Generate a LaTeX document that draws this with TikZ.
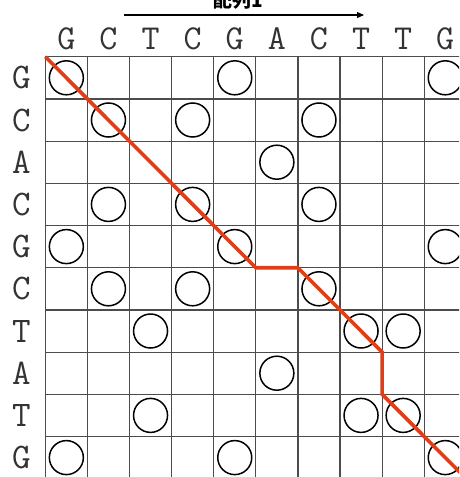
\documentclass[tikz,border=0pt]{standalone}
\usepackage{fontspec}
\newfontfamily\cjk{Noto Sans CJK JP}
\usetikzlibrary{arrows.meta}
\definecolor{pathred}{RGB}{222,62,24}
\tikzset{
  gridline/.style={draw=black!70, line width=1.2pt},
  seqlabel/.style={font=\ttfamily\fontsize{35}{35}\selectfont, text=black!80, inner sep=0pt, anchor=center},
  rowlabel/.style={font=\ttfamily\fontsize{36}{36}\selectfont, text=black!80, inner sep=0pt, anchor=center},
  match/.style={circle, draw=black, line width=1.5pt, minimum size=34pt, inner sep=0pt},
  alignpath/.style={draw=pathred, line width=3.6pt, line join=miter},
}
\begin{document}
\begin{tikzpicture}[x=1pt,y=-1pt]
\useasboundingbox (0,0) rectangle (459,477);
\clip (0,0) rectangle (459,477);
\fill[white] (0,0) rectangle (459,477);
% title and arrow
\node[font=\cjk\bfseries\fontsize{19}{19}\selectfont, anchor=base, inner sep=0pt] (title) at (238,7) {配列1};
\coordinate (arrS) at (124,15);
\coordinate (arrE) at (364,15);
\draw[line width=1.1pt, -{Triangle[length=7pt,width=6pt]}] (arrS) -- (arrE);
\begin{scope}[shift={(45.3pt,-56.7pt)}, x=42.1pt, y=-42.2pt]
  % grid
  \foreach \i in {0,...,10} {
    \draw[gridline] (\i,0) -- (\i,10.2);
    \draw[gridline] (0,\i) -- (10.2,\i);
  }
  % column headers
  \foreach \c [count=\k from 0] in {G,C,T,C,G,A,C,T,T,G} {
    \node[seqlabel] (c\k) at (\k+0.5,-0.42) {\c};
  }
  % row labels
  \foreach \r [count=\k from 0] in {G,C,A,C,G,C,T,A,T,G} {
    \node[rowlabel] (r\k) at (-0.57,\k+0.5) {\r};
  }
  % matches
  \foreach \row/\cols in {0/{0,4,9},1/{1,3,6},2/{5},3/{1,3,6},4/{0,4,9},5/{1,3,6},6/{2,7,8},7/{5},8/{2,7,8},9/{0,4,9}} {
    \foreach \col in \cols {
      \node[match] (m-\row-\col) at (\col+0.5,\row+0.5) {};
    }
  }
  % alignment path
  \coordinate (p0) at (0,0);
  \coordinate (p1) at (5,5);
  \coordinate (p2) at (6,5);
  \coordinate (p3) at (8,7);
  \coordinate (p4) at (8,8);
  \coordinate (p5) at (10.3,10.3);
  \draw[alignpath] (p0) -- (p1) -- (p2) -- (p3) -- (p4) -- (p5);
\end{scope}
\end{tikzpicture}
\end{document}
